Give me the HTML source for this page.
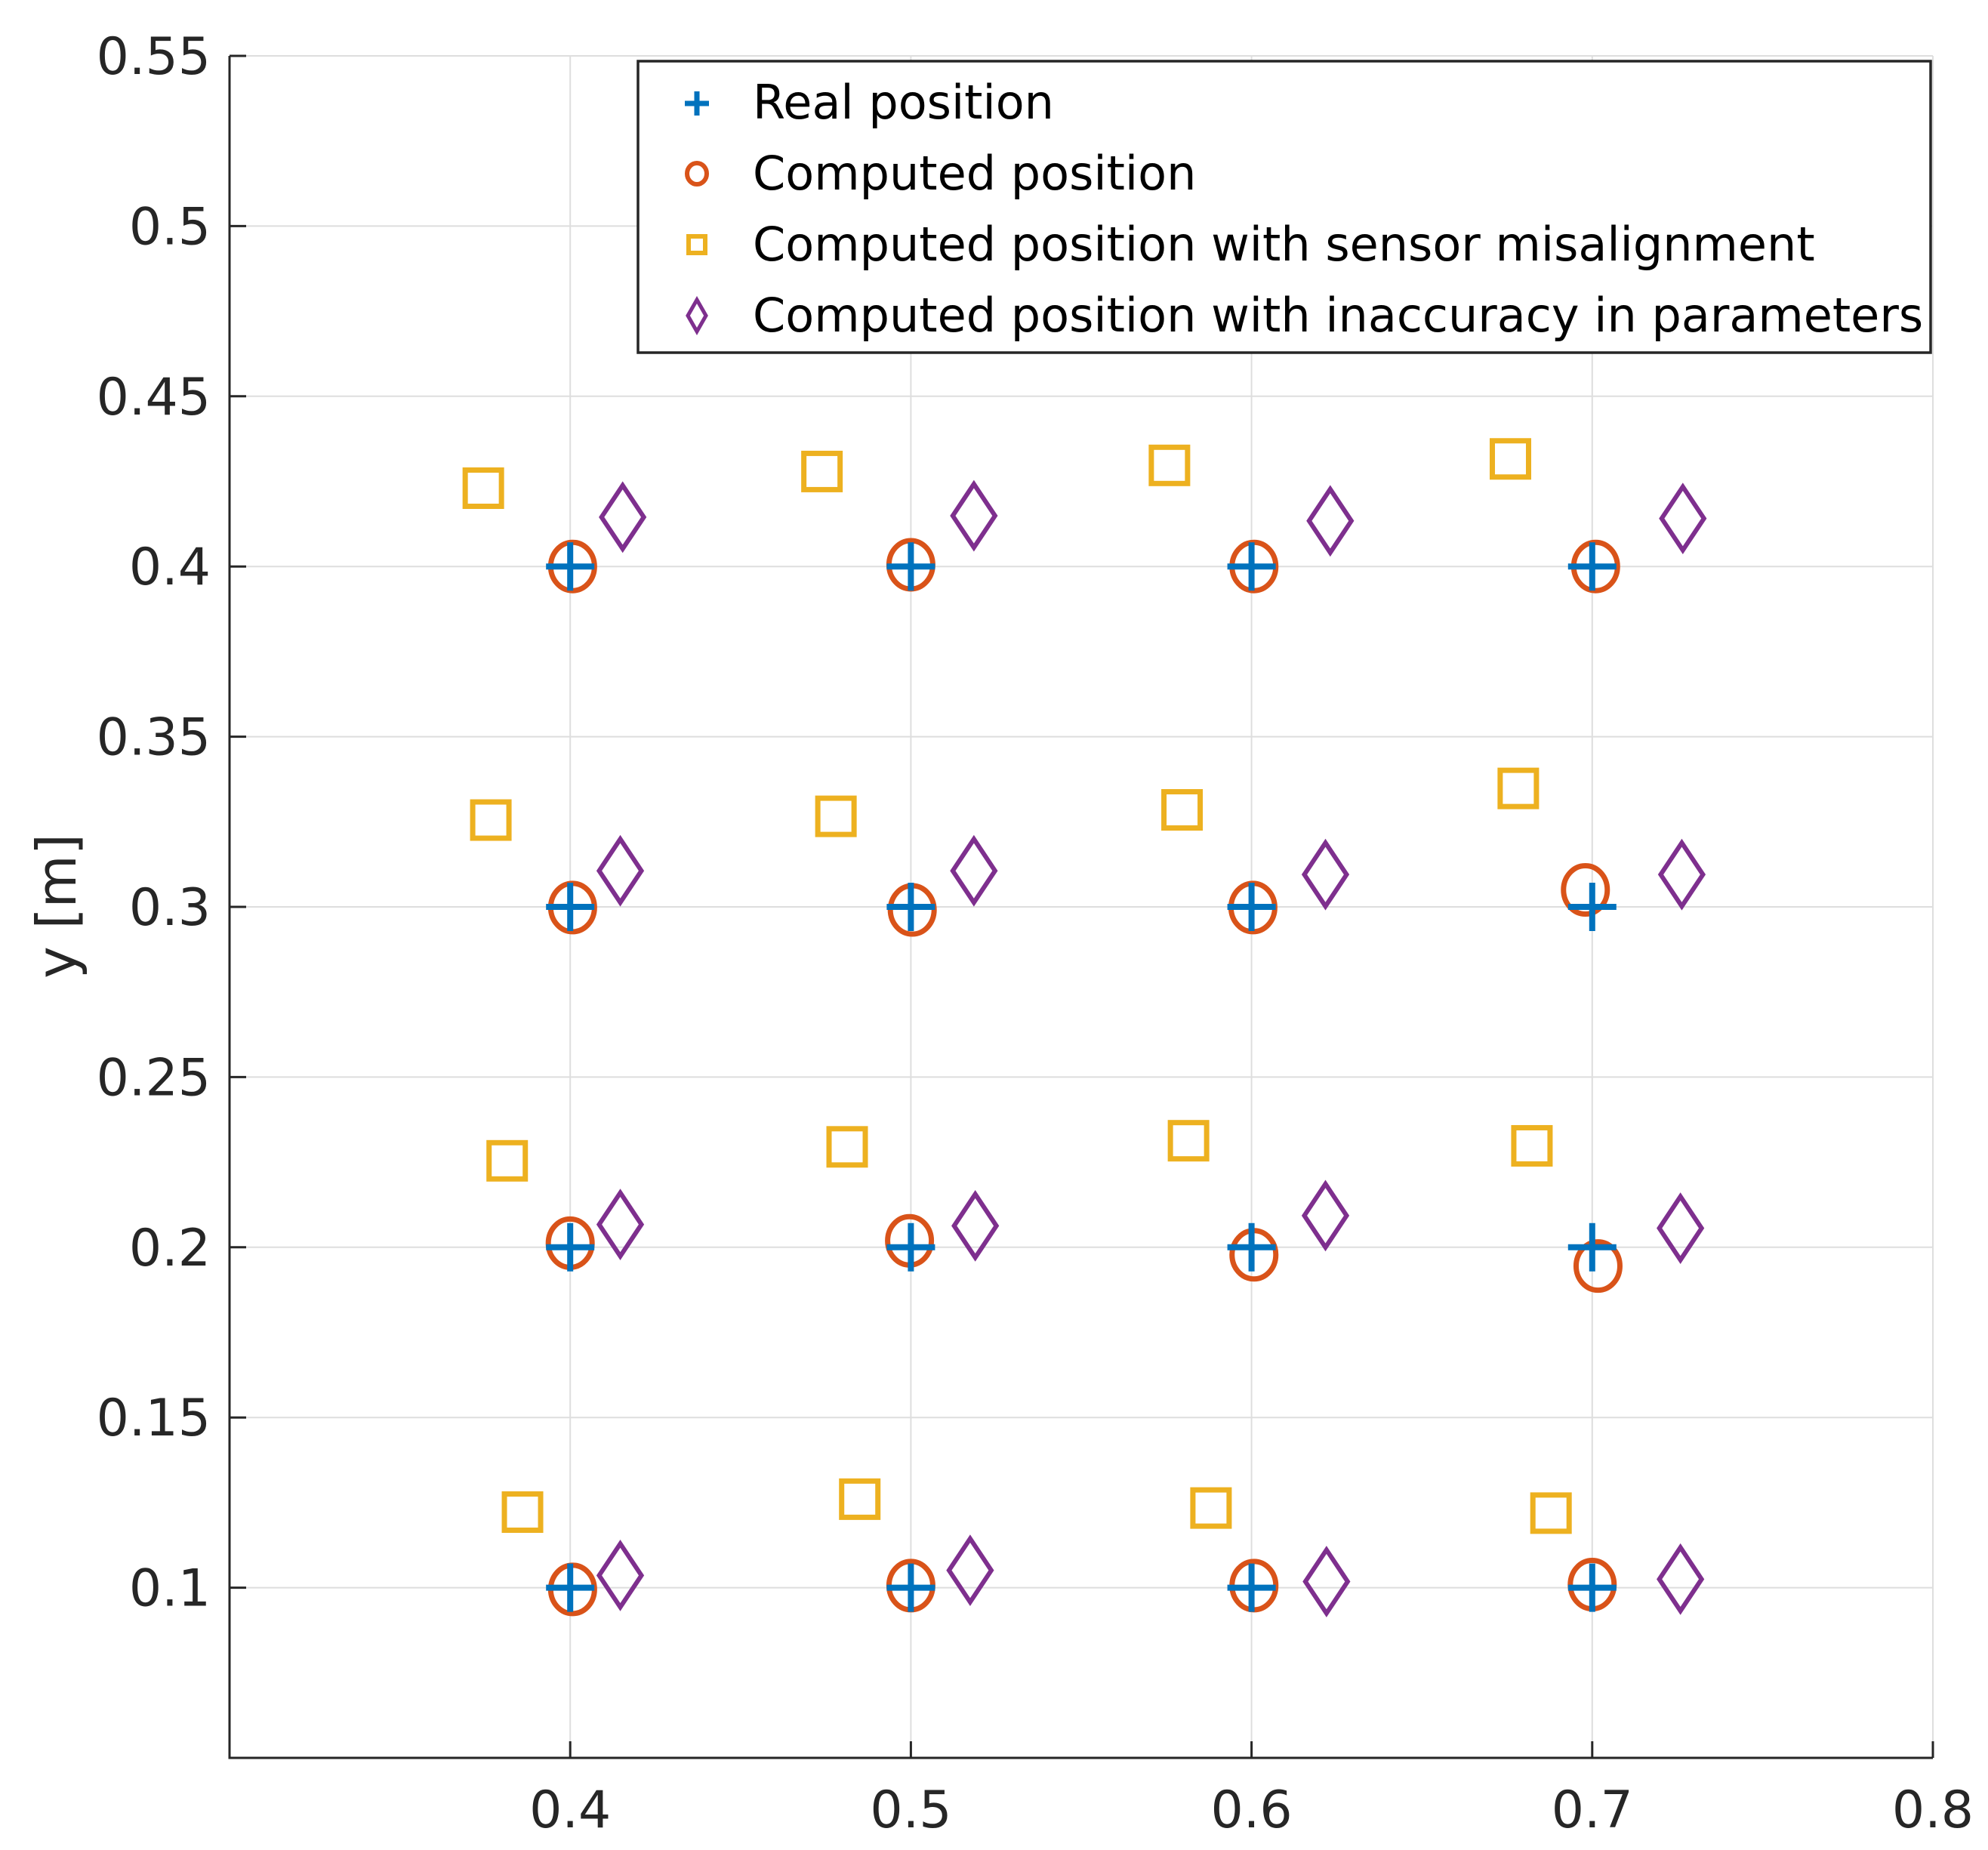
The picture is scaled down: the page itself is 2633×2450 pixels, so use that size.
<!DOCTYPE html>
<html><head><meta charset="utf-8"><style>
html,body{margin:0;padding:0;background:#fff;}
svg{display:block;font-family:"DejaVu Sans","Liberation Sans",sans-serif;}
</style></head><body>
<svg id="chart" width="2633" height="2450" viewBox="0 0 2633 2450" xmlns="http://www.w3.org/2000/svg">
<rect x="0" y="0" width="2633" height="2450" fill="#fff"/>
<g id="grid"></g>
<g id="axes"></g>
<g id="marks"></g>
<text x="100" y="1200" font-size="72" fill="#262626" text-anchor="middle" transform="rotate(-90 100 1200)">y [m]</text>
<g>
<rect x="845" y="81" width="1712" height="386" fill="#fff" stroke="#262626" stroke-width="3.5"/>
<g>
<path d="M907,137 h32 M923,121 v32" stroke="#0072BD" stroke-width="7" fill="none"/>
<text x="997" y="157" font-size="62" fill="#000">Real position</text></g>
<g>
<ellipse cx="923" cy="230" rx="13" ry="14" stroke="#D95319" stroke-width="6" fill="none"/>
<text x="997" y="251" font-size="62" fill="#000">Computed position</text></g>
<g>
<rect x="912" y="313" width="22" height="22" stroke="#EDB120" stroke-width="6" fill="none"/>
<text x="997" y="345" font-size="62" fill="#000">Computed position with sensor misalignment</text></g>
<g>
<path d="M923,397 L935,418 L923,439 L911,418 Z" stroke="#7E2F8E" stroke-width="5" fill="none"/>
<text x="997" y="439" font-size="62" fill="#000">Computed position with inaccuracy in parameters</text></g>
</g>
</svg>
<script>
const xTicks = [0.4, 0.5, 0.6, 0.7, 0.8];
const xTickLabels = ["0.4", "0.5", "0.6", "0.7", "0.8"];
const yTicks = [0.1, 0.15, 0.2, 0.25, 0.3, 0.35, 0.4, 0.45, 0.5, 0.55];
const yTickLabels = ["0.1", "0.15", "0.2", "0.25", "0.3", "0.35", "0.4", "0.45", "0.5", "0.55"];
const realX = [0.4,0.5,0.6,0.7, 0.4,0.5,0.6,0.7, 0.4,0.5,0.6,0.7, 0.4,0.5,0.6,0.7];
const realY = [0.4,0.4,0.4,0.4, 0.3,0.3,0.3,0.3, 0.2,0.2,0.2,0.2, 0.1,0.1,0.1,0.1];
const compX = [0.4007,0.5,0.6007,0.701, 0.4007,0.5004,0.6004,0.698, 0.4,0.4996,0.6007,0.7017, 0.4007,0.5,0.6007,0.7];
const compY = [0.4,0.4005,0.4,0.4, 0.2998,0.2991,0.2998,0.305, 0.2012,0.2019,0.1978,0.1945, 0.0995,0.1006,0.1006,0.1009];
const misX = [0.3745,0.4739,0.5759,0.676, 0.3767,0.478,0.5796,0.6783, 0.3815,0.4813,0.5815,0.6823, 0.386,0.485,0.5881,0.6879];
const misY = [0.423,0.4279,0.4297,0.4316, 0.3255,0.3266,0.3285,0.3348, 0.2254,0.2295,0.2313,0.2298, 0.1222,0.126,0.1234,0.1219];
const inaX = [0.4154,0.5185,0.6231,0.7266, 0.4147,0.5185,0.6217,0.7263, 0.4147,0.5189,0.6217,0.7259, 0.4147,0.5174,0.622,0.7259];
const inaY = [0.4145,0.4149,0.4134,0.4141, 0.3106,0.3106,0.3095,0.3095, 0.2067,0.2063,0.2093,0.2056, 0.1036,0.1051,0.1018,0.1025];

const L=304,R=2560,T=74,B=2328, X0=0.3,X1=0.8,Y0=0.05,Y1=0.55;
function sx(v){return L+(v-X0)/(X1-X0)*(R-L);}
function sy(v){return B-(v-Y0)/(Y1-Y0)*(B-T);}
const NS="http://www.w3.org/2000/svg";
function mk(parent,tag,attrs){const e=document.createElementNS(NS,tag);for(const k in attrs)e.setAttribute(k,attrs[k]);parent.appendChild(e);return e;}
const grid=document.getElementById('grid'),axes=document.getElementById('axes'),marks=document.getElementById('marks');
xTicks.forEach((t,i)=>{
  const g=mk(grid,'line',{x1:sx(t),x2:sx(t),y1:T,y2:B,stroke:'#dedede','stroke-width':2});
  
  
  const tk=mk(axes,'line',{x1:sx(t),x2:sx(t),y1:B,y2:B-22,stroke:'#262626','stroke-width':3});
  
  
  const tx=mk(axes,'text',{x:sx(t),y:2420,'font-size':68,fill:'#262626','text-anchor':'middle'});
  tx.textContent=xTickLabels[i];
  
  
});
yTicks.forEach((t,i)=>{
  const g=mk(grid,'line',{x1:L,x2:R,y1:sy(t),y2:sy(t),stroke:'#dedede','stroke-width':2});
  
  
  const tk=mk(axes,'line',{x1:L,x2:L+22,y1:sy(t),y2:sy(t),stroke:'#262626','stroke-width':3});
  
  
  const tx=mk(axes,'text',{x:279,y:sy(t)+24,'font-size':68,fill:'#262626','text-anchor':'end'});
  tx.textContent=yTickLabels[i];
  
  
});
const ax=mk(axes,'path',{d:`M${L},${T} V${B} H${R}`,stroke:'#262626','stroke-width':3,fill:'none'});



misX.forEach((v,i)=>{const x=sx(v),y=sy(misY[i]);
  const e=mk(marks,'rect',{x:x-24,y:y-24,width:48,height:48,stroke:'#EDB120','stroke-width':7,fill:'none'});
  
  });
inaX.forEach((v,i)=>{const x=sx(v),y=sy(inaY[i]);
  const e=mk(marks,'path',{d:`M${x},${y-42} L${x+28},${y} L${x},${y+42} L${x-28},${y} Z`,stroke:'#7E2F8E','stroke-width':6,fill:'none'});
  
  });
compX.forEach((v,i)=>{const x=sx(v),y=sy(compY[i]);
  const e=mk(marks,'ellipse',{cx:x,cy:y,rx:29,ry:32,stroke:'#D95319','stroke-width':7,fill:'none'});
  
  });
realX.forEach((v,i)=>{const x=sx(v),y=sy(realY[i]);
  const e=mk(marks,'path',{d:`M${x-32},${y} H${x+32} M${x},${y-32} V${y+32}`,stroke:'#0072BD','stroke-width':8,fill:'none'});
  
  });
</script>
</body></html>
